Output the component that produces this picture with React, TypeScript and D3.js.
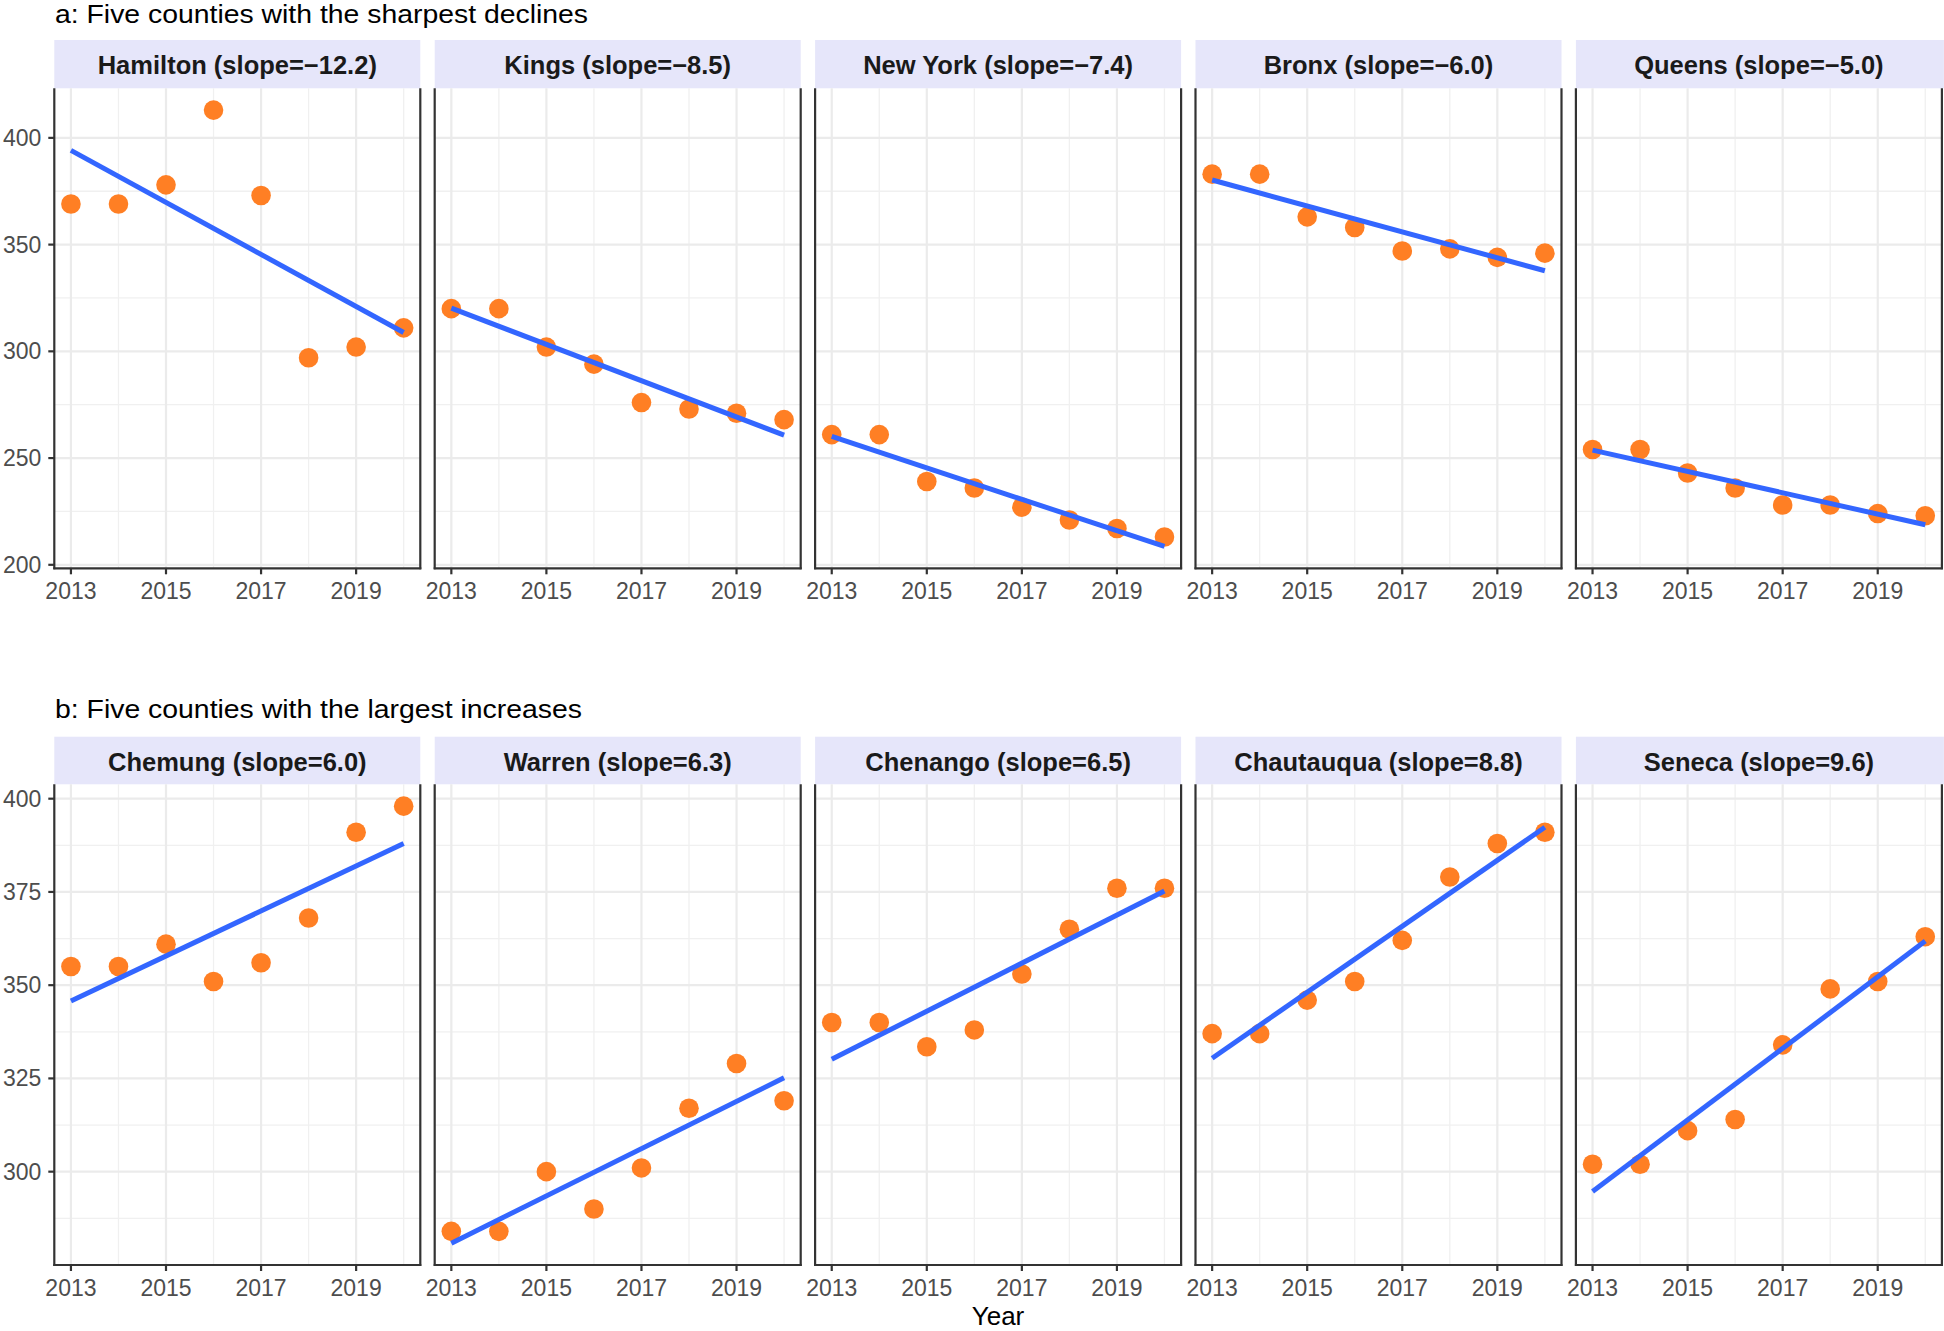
import React from "react";
import * as d3 from "d3";

const years = [2013, 2014, 2015, 2016, 2017, 2018, 2019, 2020];

const declineCounties = ["Hamilton", "Kings", "New York", "Bronx", "Queens"];
const declineSlopes = [-12.2, -8.5, -7.4, -6.0, -5.0];
const hamilton = [369, 369, 378, 413, 373, 297, 302, 311];
const kings = [320, 320, 302, 294, 276, 273, 271, 268];
const newYork = [261, 261, 239, 236, 227, 221, 217, 213];
const bronx = [383, 383, 363, 358, 347, 348, 344, 346];
const queens = [254, 254, 243, 236, 228, 228, 224, 223];

const increaseCounties = ["Chemung", "Warren", "Chenango", "Chautauqua", "Seneca"];
const increaseSlopes = [6.0, 6.3, 6.5, 8.8, 9.6];
const chemung = [355, 355, 361, 351, 356, 368, 391, 398];
const warren = [284, 284, 300, 290, 301, 317, 329, 319];
const chenango = [340, 340, 333.5, 338, 353, 365, 376, 376];
const chautauqua = [337, 337, 346, 351, 362, 379, 388, 391];
const seneca = [302, 302, 311, 314, 334, 349, 351, 363];

const topTicks = [200, 250, 300, 350, 400];
const bottomTicks = [300, 325, 350, 375, 400];
const xTicks = [2013, 2015, 2017, 2019];

const topTitle = "a: Five counties with the sharpest declines";
const bottomTitle = "b: Five counties with the largest increases";
const xTitle = "Year";

const FONT = "'Liberation Sans', Arial, Helvetica, sans-serif";
const W = 1944;
const H = 1331;
const panelLeft0 = 54.3;
const panelW = 366;
const pitch = 380.4;

type Row = {
  title: string;
  titleBaseline: number;
  titleWidth: number;
  stripTop: number;
  stripBottom: number;
  panelBottom: number;
  counties: string[];
  slopes: number[];
  series: number[][];
  ticks: number[];
};

const rows: Row[] = [
  {
    title: topTitle,
    titleBaseline: 22.5,
    titleWidth: 533,
    stripTop: 40,
    stripBottom: 88.3,
    panelBottom: 568.3,
    counties: declineCounties,
    slopes: declineSlopes,
    series: [hamilton, kings, newYork, bronx, queens],
    ticks: topTicks,
  },
  {
    title: bottomTitle,
    titleBaseline: 717.5,
    titleWidth: 527,
    stripTop: 736.7,
    stripBottom: 784.3,
    panelBottom: 1265,
    counties: increaseCounties,
    slopes: increaseSlopes,
    series: [chemung, warren, chenango, chautauqua, seneca],
    ticks: bottomTicks,
  },
];

function fit(vals: number[]) {
  const mx = d3.mean(years)!;
  const my = d3.mean(vals)!;
  let sxy = 0;
  let sxx = 0;
  years.forEach((x, i) => {
    sxy += (x - mx) * (vals[i] - my);
    sxx += (x - mx) * (x - mx);
  });
  const b = sxy / sxx;
  return (x: number) => my + b * (x - mx);
}

function fmtSlope(s: number) {
  const t = Math.abs(s).toFixed(1);
  return s < 0 ? "\u2212" + t : t;
}

function Panel({ row, idx }: { row: Row; idx: number }) {
  const x0 = panelLeft0 + idx * pitch;
  const vals = row.series[idx];
  const f = fit(vals);
  const all: number[] = [];
  row.series.forEach((s) => {
    const ff = fit(s);
    all.push(...s, ff(years[0]), ff(years[years.length - 1]));
  });
  const [lo, hi] = d3.extent(all) as [number, number];
  const padY = (hi - lo) * 0.05;
  const y = d3.scaleLinear().domain([lo - padY, hi + padY]).range([row.panelBottom, row.stripBottom]);
  const xr = years[years.length - 1] - years[0];
  const x = d3
    .scaleLinear()
    .domain([years[0] - xr * 0.05, years[years.length - 1] + xr * 0.05])
    .range([x0, x0 + panelW]);
  const step = row.ticks[1] - row.ticks[0];
  const minorY: number[] = [];
  for (let v = row.ticks[0] - step / 2; v <= row.ticks[row.ticks.length - 1] + step / 2; v += step) {
    const [a, b] = y.domain();
    if (v > a && v < b && !row.ticks.includes(v)) minorY.push(v);
  }
  const minorX = [2012, 2014, 2016, 2018, 2020].filter((v) => v > x.domain()[0] && v < x.domain()[1]);
  const line = d3
    .line<number>()
    .x((d) => x(d))
    .y((d) => y(f(d)));
  const top = row.stripBottom;
  const bot = row.panelBottom;
  const stripMid = (row.stripTop + row.stripBottom) / 2;
  return (
    <g>
      <rect x={x0} y={row.stripTop} width={panelW + (idx === 4 ? 2 : 0)} height={row.stripBottom - row.stripTop} fill="#E6E6FA" />
      <text
        x={x0 + panelW / 2}
        y={stripMid + 1}
        textAnchor="middle"
        dominantBaseline="central"
        fontFamily={FONT}
        fontWeight="bold"
        fontSize={25.5}
        fill="#1A1A1A"
      >
        {`${row.counties[idx]} (slope=${fmtSlope(row.slopes[idx])})`}
      </text>
      {minorY.map((v) => (
        <line key={"my" + v} x1={x0} x2={x0 + panelW} y1={y(v)} y2={y(v)} stroke="#F0F0F0" strokeWidth={1.3} />
      ))}
      {minorX.map((v) => (
        <line key={"mx" + v} x1={x(v)} x2={x(v)} y1={top} y2={bot} stroke="#F0F0F0" strokeWidth={1.3} />
      ))}
      {row.ticks.map((v) => (
        <line key={"gy" + v} x1={x0} x2={x0 + panelW} y1={y(v)} y2={y(v)} stroke="#EBEBEB" strokeWidth={2.2} />
      ))}
      {xTicks.map((v) => (
        <line key={"gx" + v} x1={x(v)} x2={x(v)} y1={top} y2={bot} stroke="#EBEBEB" strokeWidth={2.2} />
      ))}
      {vals.map((v, i) => (
        <circle key={"p" + i} cx={x(years[i])} cy={y(v)} r={9.8} fill="#FF7F24" />
      ))}
      <path d={line([years[0], years[years.length - 1]]) || ""} stroke="#3366FF" strokeWidth={5} fill="none" />
      <line x1={x0} x2={x0} y1={top} y2={bot + 1} stroke="#333333" strokeWidth={2.2} />
      <line x1={x0 + panelW} x2={x0 + panelW} y1={top} y2={bot + 1} stroke="#333333" strokeWidth={2.2} />
      <line x1={x0 - 1} x2={x0 + panelW + 1} y1={bot} y2={bot} stroke="#333333" strokeWidth={2.2} />
      {xTicks.map((v) => (
        <g key={"xt" + v}>
          <line x1={x(v)} x2={x(v)} y1={bot} y2={bot + 6} stroke="#333333" strokeWidth={2.2} />
          <text x={x(v)} y={bot + 31} textAnchor="middle" fontFamily={FONT} fontSize={23} fill="#4D4D4D">
            {v}
          </text>
        </g>
      ))}
      {idx === 0 &&
        row.ticks.map((v) => (
          <g key={"yt" + v}>
            <line x1={x0 - 6} x2={x0} y1={y(v)} y2={y(v)} stroke="#333333" strokeWidth={2.2} />
            <text
              x={x0 - 13}
              y={y(v)}
              textAnchor="end"
              dominantBaseline="central"
              fontFamily={FONT}
              fontSize={23}
              fill="#4D4D4D"
            >
              {v}
            </text>
          </g>
        ))}
    </g>
  );
}

export default function App() {
  return (
    <svg
      width={W}
      height={H}
      viewBox={`0 0 ${W} ${H}`}
      style={{ position: "absolute", left: 0, top: 0, background: "#FFFFFF" }}
    >
      <rect x={0} y={0} width={W} height={H} fill="#FFFFFF" />
      {rows.map((row, ri) => (
        <g key={ri}>
          <text
            x={55}
            y={row.titleBaseline}
            fontFamily={FONT}
            fontSize={25}
            textLength={row.titleWidth}
            lengthAdjust="spacingAndGlyphs"
            fill="#000000"
          >
            {row.title}
          </text>
          {row.counties.map((_, i) => (
            <Panel key={i} row={row} idx={i} />
          ))}
        </g>
      ))}
      <text x={998} y={1325} textAnchor="middle" fontFamily={FONT} fontSize={26} fill="#000000">
        {xTitle}
      </text>
    </svg>
  );
}
